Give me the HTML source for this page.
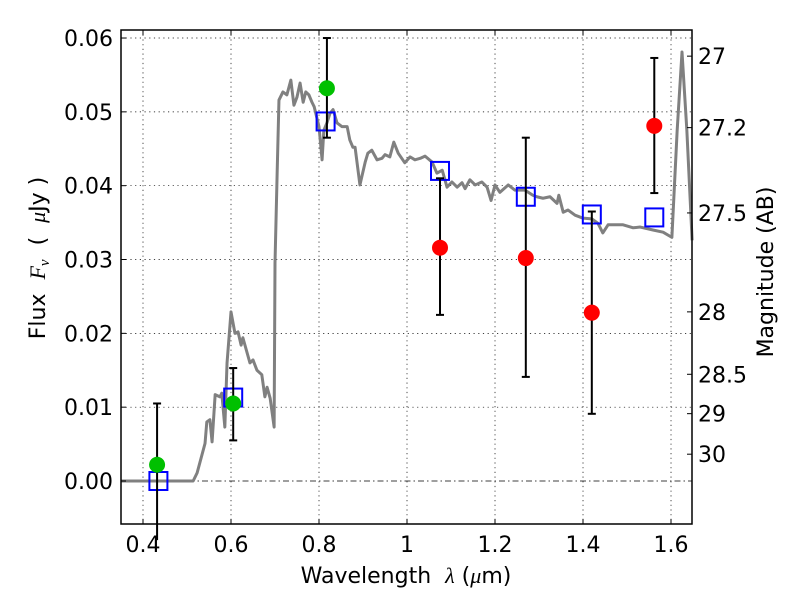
<!DOCTYPE html>
<html><head><meta charset="utf-8"><style>
body{margin:0;background:#fff}
svg text{font-family:"DejaVu Sans","Liberation Sans",sans-serif;fill:#000}
</style></head><body>
<svg id="chart" width="800" height="600" xmlns="http://www.w3.org/2000/svg">
<rect width="800" height="600" fill="#fff"/>
<g id="grid"></g>
<g id="plot"></g>
<g id="axes"></g>
<text x="406" y="583" font-size="22" text-anchor="middle" xml:space="preserve">Wavelength  <tspan font-style="italic" font-family="Liberation Serif, serif">λ</tspan> (<tspan font-style="italic" font-family="Liberation Serif, serif">μ</tspan>m)</text>
<text transform="translate(45,258) rotate(-90)" font-size="22" text-anchor="middle" xml:space="preserve">Flux  <tspan font-style="italic" font-family="Liberation Serif, serif">F</tspan><tspan font-style="italic" font-size="15" dy="4" font-family="Liberation Serif, serif">ν</tspan><tspan dy="-4">  (  </tspan><tspan font-style="italic" font-family="Liberation Serif, serif">μ</tspan>Jy )</text>
<text transform="translate(773,272) rotate(-90)" font-size="22" text-anchor="middle">Magnitude (AB)</text>
</svg>
<script>
const xTicks=[0.4,0.6,0.8,1.0,1.2,1.4,1.6];
const xTickLabels=["0.4","0.6","0.8","1","1.2","1.4","1.6"];
const yTicks=[0,0.01,0.02,0.03,0.04,0.05,0.06];
const yTickLabels=["0.00","0.01","0.02","0.03","0.04","0.05","0.06"];
const magTicks=[27,27.2,27.5,28,28.5,29,30];
const magTickLabels=["27","27.2","27.5","28","28.5","29","30"];
const specWave=[0.35,0.514,0.523,0.541,0.545,0.552,0.557,0.564,0.575,0.579,0.586,0.591,0.6,0.609,0.616,0.623,0.627,0.643,0.65,0.659,0.67,0.677,0.682,0.689,0.698,0.70,0.705,0.709,0.718,0.727,0.736,0.743,0.75,0.757,0.764,0.77,0.777,0.784,0.789,0.8,0.807,0.811,0.818,0.825,0.832,0.841,0.852,0.864,0.87,0.877,0.882,0.893,0.905,0.911,0.92,0.932,0.943,0.95,0.961,0.97,0.98,0.995,1.007,1.018,1.03,1.041,1.057,1.068,1.08,1.091,1.102,1.114,1.125,1.132,1.143,1.155,1.17,1.182,1.191,1.2,1.211,1.23,1.245,1.268,1.286,1.295,1.309,1.325,1.341,1.345,1.355,1.366,1.382,1.4,1.42,1.434,1.445,1.457,1.473,1.491,1.514,1.53,1.559,1.582,1.602,1.614,1.625,1.636,1.648];
const specFlux=[0,0,0.0011,0.0051,0.008,0.0083,0.0053,0.0117,0.0114,0.0119,0.0073,0.016,0.0229,0.020,0.0202,0.0184,0.0194,0.016,0.0164,0.015,0.0144,0.0114,0.0127,0.0112,0.0073,0.0295,0.042,0.0516,0.0527,0.0523,0.0543,0.0509,0.052,0.0539,0.0513,0.0527,0.0523,0.0513,0.0507,0.048,0.0435,0.0475,0.0485,0.0498,0.0503,0.0485,0.048,0.048,0.0462,0.0452,0.0452,0.0401,0.0432,0.0444,0.0448,0.0435,0.0437,0.0442,0.0439,0.0459,0.0444,0.0431,0.0439,0.0435,0.0437,0.0440,0.0432,0.0417,0.0421,0.0398,0.0405,0.0398,0.0404,0.0396,0.0408,0.0401,0.0405,0.0398,0.038,0.0401,0.0391,0.0401,0.0394,0.0394,0.0387,0.0385,0.0383,0.0385,0.0376,0.0387,0.0364,0.0367,0.036,0.0356,0.0355,0.0349,0.0336,0.0347,0.0347,0.0347,0.0343,0.0344,0.034,0.0337,0.033,0.0475,0.0581,0.0475,0.0326];
const modelWave=[0.435,0.605,0.815,1.075,1.27,1.42,1.562];
const modelFlux=[0.0,0.0113,0.0487,0.042,0.0385,0.0361,0.0357];
const detWave=[0.432,0.605,0.818];
const detFlux=[0.0022,0.0105,0.0532];
const detLo=[-0.008,0.0055,0.0465];
const detHi=[0.0105,0.0153,0.060];
const ndWave=[1.075,1.27,1.42,1.562];
const ndFlux=[0.0316,0.0302,0.0228,0.0481];
const ndLo=[0.0225,0.0141,0.0091,0.039];
const ndHi=[0.041,0.0465,0.0365,0.0573];

const L=121,R=692,T=30,B=524;
const X=v=>L+(v-0.35)/(1.6477-0.35)*(R-L);
const Y=v=>481-(v)*7383;
const magY=m=>Y(Math.pow(10,(23.9-m)/2.5));
const NS="http://www.w3.org/2000/svg";
function mk(parent,tag,attrs){const e=document.createElementNS(NS,tag);for(const k in attrs)e.setAttribute(k,attrs[k]);document.getElementById(parent).appendChild(e);return e;}

xTicks.forEach((t,i)=>{
  const g=mk('grid','line',{x1:X(t),x2:X(t),y1:T,y2:B,stroke:'#000','stroke-width':0.7,'stroke-dasharray':'1.2,3.5'});
  
  
  mk('axes','line',{x1:X(t),x2:X(t),y1:B,y2:B-5,stroke:'#000'});
  mk('axes','line',{x1:X(t),x2:X(t),y1:T,y2:T+5,stroke:'#000'});
  const l=mk('axes','text',{x:X(t),y:B+28,'font-size':22,'text-anchor':'middle'});
  l.textContent=xTickLabels[i];
  
  
});
yTicks.forEach((t,i)=>{
  if(t!==0){const g=mk('grid','line',{x1:L,x2:R,y1:Y(t),y2:Y(t),stroke:'#000','stroke-width':0.7,'stroke-dasharray':'1.2,3.5'});
  
  }
  mk('axes','line',{x1:L,x2:L+5,y1:Y(t),y2:Y(t),stroke:'#000'});
  const l=mk('axes','text',{x:L-8,y:Y(t)+8,'font-size':22,'text-anchor':'end'});
  l.textContent=yTickLabels[i];
  
  
});
const z=mk('grid','line',{x1:L,x2:R,y1:Y(0),y2:Y(0),stroke:'#000','stroke-width':0.8,'stroke-dasharray':'6,3,1.5,3'});


magTicks.forEach((m,i)=>{
  mk('axes','line',{x1:R,x2:R-5,y1:magY(m),y2:magY(m),stroke:'#000'});
  const l=mk('axes','text',{x:R+6,y:magY(m)+8,'font-size':22});
  l.textContent=magTickLabels[i];
  
  
});

const sp=mk('plot','polyline',{points:specWave.map((w,i)=>X(w)+','+Y(specFlux[i])).join(' '),fill:'none',stroke:'#808080','stroke-width':3,'stroke-linejoin':'round'});



function errbar(w,lo,hi){
  const x=X(w);
  const e=mk('plot','line',{x1:x,x2:x,y1:Y(lo),y2:Y(hi),stroke:'#000','stroke-width':2});
  
  
  [lo,hi].forEach(v=>{if(Y(v)<B) mk('plot','line',{x1:x-4,x2:x+4,y1:Y(v),y2:Y(v),stroke:'#000','stroke-width':2});});
}
modelWave.forEach((w,i)=>{
  const s=mk('plot','rect',{x:X(w)-9,y:Y(modelFlux[i])-9,width:18,height:18,fill:'none',stroke:'#0000ff','stroke-width':2});
  
  
});
detWave.forEach((w,i)=>{
  errbar(w,detLo[i],detHi[i]);
  const c=mk('plot','circle',{cx:X(w),cy:Y(detFlux[i]),r:8,fill:'#00c000'});
  
  
});
ndWave.forEach((w,i)=>{
  errbar(w,ndLo[i],ndHi[i]);
  const c=mk('plot','circle',{cx:X(w),cy:Y(ndFlux[i]),r:8,fill:'#ff0000'});
  
  
});
const f=mk('axes','rect',{x:L,y:T,width:R-L,height:B-T,fill:'none',stroke:'#000','stroke-width':1.5});


</script>
</body></html>
